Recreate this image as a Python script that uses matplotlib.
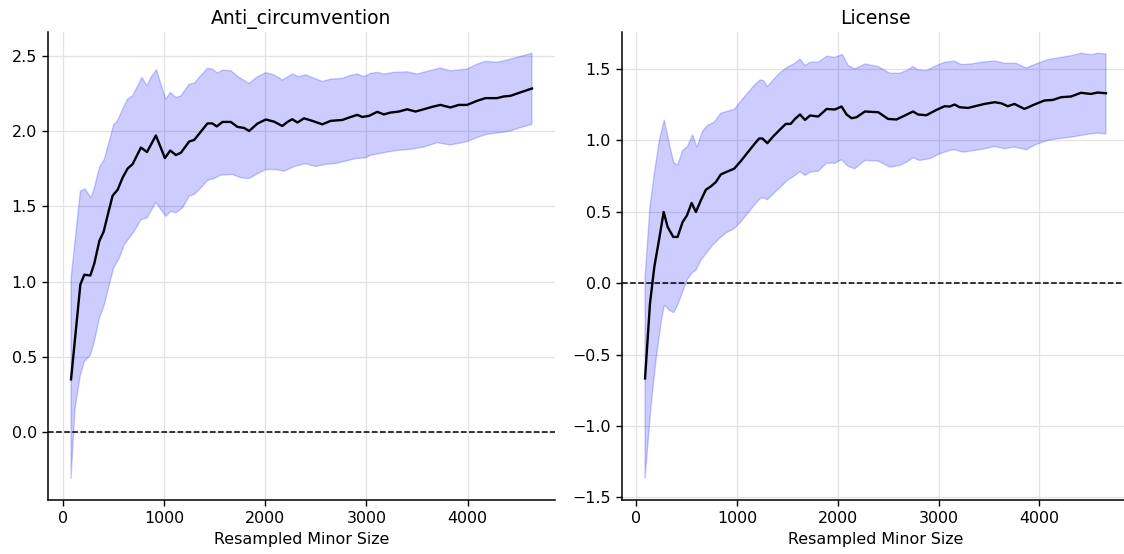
import numpy as np
import matplotlib.pyplot as plt

plt.rcParams['font.family'] = ['DejaVu Sans']

# Anti_circumvention: mean curve and upper / lower band edges
anti_x = [79, 171, 210, 270, 309, 359, 401, 441, 490, 540, 589, 638, 688, 770, 830,
          918, 1007, 1060, 1116, 1165, 1247, 1296, 1362, 1428, 1477, 1520, 1576, 1658,
          1724, 1790, 1839, 1922, 2004, 2086, 2168, 2218, 2267, 2317, 2382, 2464, 2563,
          2646, 2761, 2827, 2909, 2958, 3024, 3106, 3172, 3237, 3320, 3402, 3484, 3566,
          3649, 3731, 3830, 3912, 3994, 4093, 4175, 4290, 4356, 4422, 4521, 4636]
anti_mean = [0.35, 0.98, 1.045, 1.04, 1.12, 1.27, 1.33, 1.44, 1.57, 1.61, 1.69, 1.75,
             1.78, 1.89, 1.86, 1.97, 1.82, 1.87, 1.84, 1.855, 1.93, 1.94, 1.995, 2.05,
             2.05, 2.03, 2.06, 2.06, 2.027, 2.02, 2.0, 2.049, 2.076, 2.062, 2.033, 2.06,
             2.078, 2.056, 2.084, 2.067, 2.044, 2.067, 2.073, 2.089, 2.107, 2.093, 2.1,
             2.127, 2.11, 2.122, 2.129, 2.144, 2.129, 2.144, 2.16, 2.173, 2.156, 2.173,
             2.173, 2.2, 2.218, 2.218, 2.229, 2.233, 2.256, 2.282]

anti_up_x = [79, 171, 217, 276, 309, 359, 408, 457, 500, 540, 589, 638, 688, 730, 780,
             830, 869, 925, 967, 1017, 1060, 1116, 1165, 1247, 1296, 1362, 1428, 1477,
             1527, 1576, 1658, 1740, 1839, 1922, 2004, 2086, 2168, 2267, 2333, 2399,
             2481, 2563, 2646, 2761, 2827, 2909, 2975, 3040, 3106, 3172, 3270, 3402,
             3501, 3599, 3731, 3830, 3994, 4093, 4175, 4290, 4389, 4488, 4636]
anti_up = [1.02, 1.6, 1.615, 1.556, 1.62, 1.756, 1.811, 1.933, 2.04, 2.07, 2.144, 2.211,
           2.233, 2.289, 2.356, 2.3, 2.356, 2.407, 2.311, 2.211, 2.256, 2.222, 2.233,
           2.311, 2.316, 2.367, 2.416, 2.411, 2.384, 2.404, 2.4, 2.356, 2.316, 2.36,
           2.387, 2.373, 2.338, 2.378, 2.36, 2.373, 2.351, 2.329, 2.344, 2.349, 2.367,
           2.378, 2.36, 2.382, 2.389, 2.378, 2.389, 2.393, 2.378, 2.396, 2.418, 2.4,
           2.411, 2.444, 2.462, 2.456, 2.471, 2.489, 2.516]

anti_lo_x = [79, 118, 171, 210, 270, 309, 359, 408, 457, 500, 556, 605, 655, 704, 770,
             830, 869, 918, 967, 1017, 1066, 1116, 1181, 1247, 1296, 1362, 1428, 1494,
             1559, 1592, 1674, 1757, 1839, 1922, 2004, 2103, 2185, 2300, 2399, 2497,
             2596, 2695, 2794, 2892, 2991, 3040, 3172, 3303, 3435, 3566, 3698, 3830,
             3994, 4093, 4191, 4323, 4422, 4521, 4636]
anti_lo = [-0.31, 0.155, 0.378, 0.467, 0.511, 0.6, 0.756, 0.844, 0.978, 1.089, 1.156,
           1.244, 1.289, 1.333, 1.411, 1.422, 1.467, 1.527, 1.478, 1.433, 1.467, 1.456,
           1.489, 1.567, 1.578, 1.622, 1.671, 1.684, 1.707, 1.707, 1.711, 1.689, 1.684,
           1.716, 1.744, 1.744, 1.733, 1.767, 1.782, 1.764, 1.778, 1.784, 1.8, 1.816,
           1.822, 1.838, 1.856, 1.871, 1.878, 1.893, 1.922, 1.907, 1.929, 1.956, 1.978,
           1.989, 2.0, 2.022, 2.044]

# License
lic_x = [86, 135, 178, 228, 271, 310, 366, 409, 459, 502, 548, 591, 640, 690, 739, 789,
         838, 904, 970, 1036, 1102, 1168, 1218, 1251, 1300, 1350, 1416, 1482, 1531, 1574,
         1624, 1673, 1723, 1805, 1888, 1970, 2036, 2086, 2136, 2185, 2268, 2400, 2498,
         2581, 2664, 2746, 2795, 2878, 2977, 3059, 3109, 3158, 3208, 3290, 3373, 3455,
         3554, 3620, 3686, 3752, 3851, 3950, 4049, 4131, 4214, 4313, 4412, 4511, 4577, 4660]
lic_mean = [-0.667, -0.142, 0.114, 0.317, 0.499, 0.394, 0.324, 0.324, 0.429, 0.475,
            0.562, 0.499, 0.581, 0.655, 0.678, 0.709, 0.762, 0.783, 0.802, 0.855, 0.914,
            0.972, 1.014, 1.014, 0.981, 1.023, 1.07, 1.116, 1.116, 1.151, 1.182, 1.144,
            1.175, 1.168, 1.221, 1.217, 1.238, 1.182, 1.156, 1.163, 1.203, 1.198, 1.151,
            1.147, 1.175, 1.203, 1.182, 1.177, 1.214, 1.24, 1.238, 1.252, 1.233, 1.228,
            1.242, 1.256, 1.268, 1.261, 1.24, 1.256, 1.221, 1.252, 1.28, 1.284, 1.303,
            1.308, 1.334, 1.326, 1.336, 1.331]

lic_up_x = [86, 135, 178, 228, 277, 327, 370, 409, 459, 508, 558, 601, 657, 706, 772,
            838, 904, 970, 1036, 1102, 1168, 1228, 1261, 1300, 1366, 1432, 1498, 1574,
            1624, 1673, 1723, 1805, 1888, 1970, 2046, 2102, 2168, 2268, 2400, 2515, 2614,
            2680, 2746, 2795, 2878, 2977, 3059, 3158, 3224, 3323, 3422, 3554, 3653, 3768,
            3867, 3966, 4082, 4181, 4313, 4412, 4511, 4577, 4660]
lic_up = [0.04, 0.534, 0.767, 1.0, 1.145, 0.976, 0.848, 0.825, 0.93, 0.958, 1.04, 0.953,
          1.065, 1.105, 1.128, 1.191, 1.205, 1.217, 1.275, 1.331, 1.385, 1.424, 1.42,
          1.378, 1.431, 1.478, 1.513, 1.541, 1.571, 1.525, 1.548, 1.548, 1.59, 1.583,
          1.602, 1.525, 1.501, 1.536, 1.518, 1.471, 1.471, 1.489, 1.518, 1.494, 1.489,
          1.525, 1.548, 1.555, 1.532, 1.536, 1.548, 1.557, 1.541, 1.541, 1.508, 1.536,
          1.566, 1.578, 1.594, 1.611, 1.601, 1.611, 1.606]

lic_lo_x = [86, 145, 195, 244, 277, 327, 370, 409, 459, 502, 548, 591, 640, 690, 756,
            822, 888, 970, 1036, 1102, 1168, 1228, 1261, 1300, 1366, 1432, 1498, 1574,
            1624, 1673, 1723, 1805, 1888, 1970, 2036, 2102, 2168, 2268, 2400, 2515, 2614,
            2680, 2746, 2811, 2911, 3010, 3109, 3158, 3241, 3356, 3455, 3554, 3653, 3752,
            3867, 3966, 4082, 4181, 4313, 4412, 4511, 4577, 4660]
lic_lo = [-1.37, -0.865, -0.538, -0.282, -0.154, -0.189, -0.207, -0.154, -0.061, 0.021,
          0.068, 0.091, 0.161, 0.207, 0.266, 0.312, 0.352, 0.382, 0.429, 0.487, 0.545,
          0.592, 0.599, 0.585, 0.631, 0.674, 0.72, 0.755, 0.783, 0.755, 0.778, 0.785,
          0.841, 0.841, 0.865, 0.818, 0.802, 0.86, 0.856, 0.813, 0.825, 0.848, 0.879,
          0.86, 0.872, 0.907, 0.93, 0.935, 0.918, 0.93, 0.942, 0.958, 0.942, 0.954,
          0.935, 0.972, 1.0, 1.012, 1.023, 1.035, 1.047, 1.051, 1.047]

panels = [
    ('Anti_circumvention', anti_x, anti_mean, anti_up_x, anti_up, anti_lo_x, anti_lo),
    ('License', lic_x, lic_mean, lic_up_x, lic_up, lic_lo_x, lic_lo),
]

fig = plt.figure(figsize=(11.24, 5.54), dpi=100)
ax_left = fig.add_axes([48 / 1124, 54 / 554, 507 / 1124, 468 / 554])
ax_right = fig.add_axes([622 / 1124, 54 / 554, 507 / 1124, 468 / 554])

for ax, (title, x, m, ux, uy, lx, ly) in zip([ax_left, ax_right], panels):
    # band between upper and lower edges
    ax.fill(np.concatenate([ux, lx[::-1]]), np.concatenate([uy, ly[::-1]]),
            color='blue', alpha=0.2, linewidth=1)
    ax.plot(x, m, color='black', linewidth=1.7)
    ax.axhline(0, color='black', linestyle='--', linewidth=1.1)
    ax.set_title(title, fontsize=13.5)
    ax.set_xlabel('Resampled Minor Size', fontsize=11.4)
    ax.grid(True, color='#e3e3e3', linewidth=0.9)
    ax.set_axisbelow(True)
    ax.tick_params(labelsize=11.4, length=4.5, width=1)
    for side in ['left', 'bottom']:
        ax.spines[side].set_linewidth(1.1)
    ax.spines['top'].set_visible(False)
    ax.spines['right'].set_visible(False)
    ax.set_xticks([0, 1000, 2000, 3000, 4000])

ax_left.set_yticks([0.0, 0.5, 1.0, 1.5, 2.0, 2.5])
ax_right.set_yticks([-1.5, -1.0, -0.5, 0.0, 0.5, 1.0, 1.5])

fig.savefig('out.png', dpi=100)
